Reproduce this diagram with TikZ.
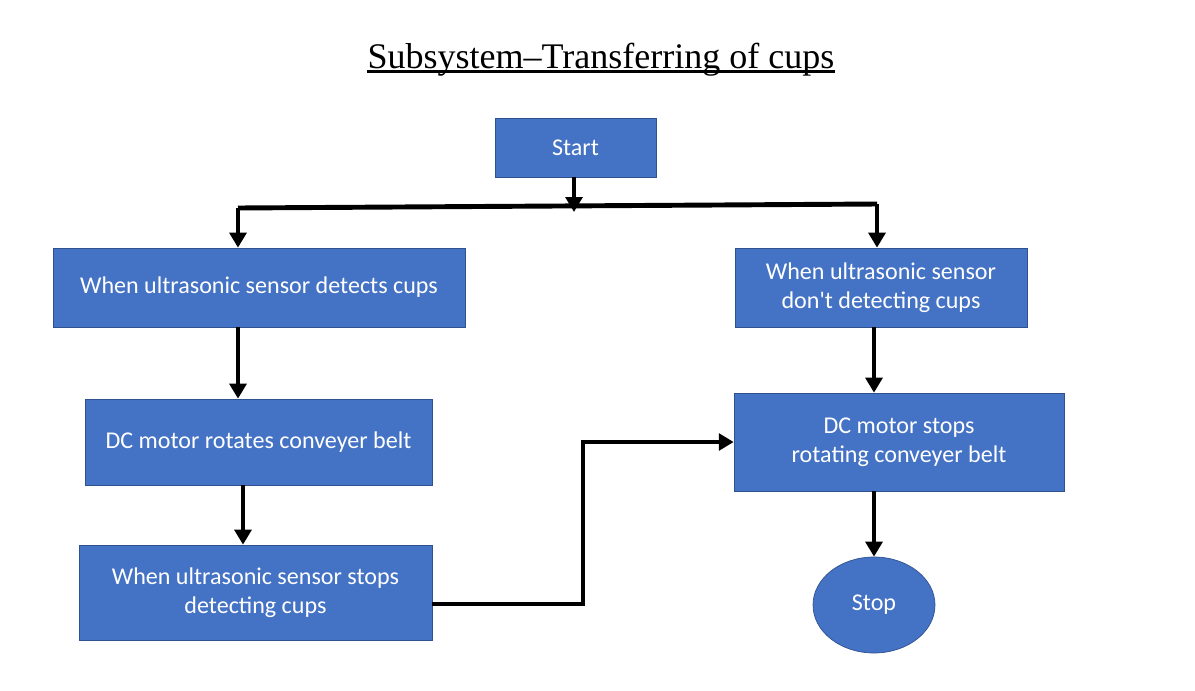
\documentclass[tikz,border=0pt]{standalone}
\usepackage{fontspec}
\setmainfont{Carlito}
\newfontfamily\titlefont{Liberation Serif}
\usetikzlibrary{arrows.meta,shapes.geometric}
\definecolor{boxblue}{HTML}{4472C4}
\definecolor{boxedge}{HTML}{2F528F}

\begin{document}
\begin{tikzpicture}[x=0.02cm, y=-0.02cm,
        box/.style={draw=boxedge, fill=boxblue, text=white, font=\fontsize{13.7}{16.5}\selectfont, align=center, inner sep=0pt},
        flow/.style={line width=2.8pt, -{Triangle[length=8.5pt,width=9.5pt]}},
        link/.style={line width=2.8pt}]
    \useasboundingbox (0,0) rectangle (1195,690);
    \node[anchor=base, inner sep=0pt, font=\titlefont\fontsize{20.5}{25}\selectfont] (title) at (601, 68) {Subsystem–Transferring of cups};
    \draw[line width=1.5pt] ([yshift=-0.07cm]title.base west) -- ([yshift=-0.07cm]title.base east);
    \node[box, minimum width=3.22cm, minimum height=1.18cm] (start) at (575.5, 147.5) {Start};
    \node[box, minimum width=8.24cm, minimum height=1.58cm] (detect) at (259, 287.5) {When ultrasonic sensor detects cups};
    \node[box, minimum width=5.84cm, minimum height=1.58cm] (nodetect) at (881, 287.5) {When ultrasonic sensor\\don\textquotesingle t detecting cups};
    \node[box, minimum width=6.94cm, minimum height=1.72cm] (rotate) at (258.5, 442) {DC motor rotates conveyer belt};
    \node[box, minimum width=6.6cm, minimum height=1.96cm] (halt) at (899, 442) {DC motor stops\\rotating conveyer belt};
    \node[box, minimum width=7.06cm, minimum height=1.9cm] (lost) at (255.5, 592.5) {When ultrasonic sensor stops\\detecting cups};
    \node[box, ellipse, minimum width=2.44cm, minimum height=1.92cm] (stop) at (874, 605) {Stop};
    \coordinate (splitl) at (238, 208);
    \coordinate (splitr) at (877, 204);
    \coordinate (junction) at (574, 212);
    \coordinate (dropl) at (243, 476);
    \coordinate (bend) at (583, 604);
    \draw[link] (splitl) -- (splitr);
    \draw[flow] (start.south -| junction) -- (junction);
    \draw[flow] (splitl) -- (detect.north -| splitl);
    \draw[flow] (splitr) -- (nodetect.north -| splitr);
    \draw[flow] (detect.south -| splitl) -- (rotate.north -| splitl);
    \draw[flow] (rotate.south -| dropl) -- (lost.north -| dropl);
    \draw[flow] (lost.east |- bend) -- (bend) |- (halt.west);
    \draw[flow] (nodetect.south -| stop) -- (halt.north -| stop);
    \draw[flow] (halt.south -| stop) -- (stop.north);
\end{tikzpicture}
\end{document}
